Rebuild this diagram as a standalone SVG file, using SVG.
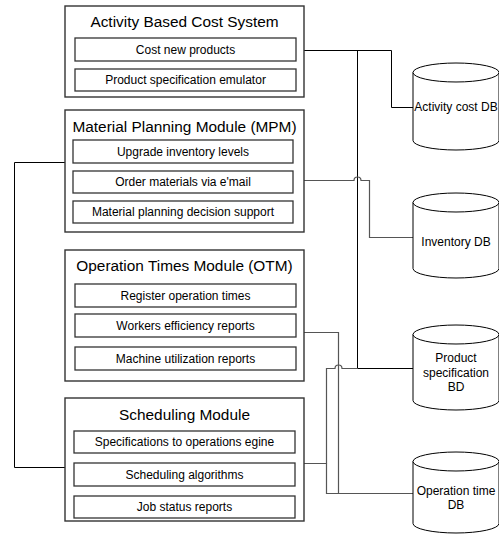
<svg xmlns="http://www.w3.org/2000/svg" width="499" height="535" viewBox="0 0 499 535">
<style>
.outer{fill:#fff;stroke:#333;stroke-width:1.4}
.inner{fill:#fff;stroke:#333;stroke-width:1.3}
.title{font-family:"Liberation Sans",Arial,sans-serif;font-size:15.4px;fill:#000;text-anchor:middle}
.item{font-family:"Liberation Sans",Arial,sans-serif;font-size:12px;fill:#000;text-anchor:middle}
.db{fill:#fff;stroke:#000;stroke-width:1}
.conn{fill:none;stroke:#000;stroke-width:1}
.conn2{fill:none;stroke:#555;stroke-width:1.2}
</style>
<rect width="499" height="535" fill="#fff"/>
<g id="connectors">
<path class="conn" d="M304,50.5 H391.5 V107.5 H413"/>
<path class="conn" d="M304,50.5 H357.5 V368.5 H413"/>
<path class="conn2" d="M304,180.5 H354 A3.5,3.5 0 0 1 361,180.5 H369.5 V237.5 H413"/>
<path class="conn2" d="M304,332.5 H338.5 V493.5 H413"/>
<path class="conn2" d="M304,463.5 H326.5 V368.5 H335 A3.5,3.5 0 0 1 342,368.5 H357.5"/>
<path class="conn2" d="M326.5,463.5 V493.5 H338.5"/>
<path class="conn" d="M65,162.5 H14.5 V467.5 H65"/>
</g>
<g id="abc">
<rect class="outer" x="65" y="6" width="239" height="91"/>
<text class="title" x="184.5" y="26.5">Activity Based Cost System</text>
<rect class="inner" x="75" y="38" width="221" height="23"/>
<text class="item" x="185.5" y="53.8">Cost new products</text>
<rect class="inner" x="75" y="69" width="221" height="22"/>
<text class="item" x="185.5" y="84.3">Product specification emulator</text>
</g>
<g id="mpm">
<rect class="outer" x="65" y="110" width="239" height="122"/>
<text class="title" x="184.5" y="132">Material Planning Module (MPM)</text>
<rect class="inner" x="73" y="140" width="220" height="23"/>
<text class="item" x="183" y="155.8">Upgrade inventory levels</text>
<rect class="inner" x="73" y="171" width="220" height="22"/>
<text class="item" x="183" y="186.3">Order materials via e'mail</text>
<rect class="inner" x="73" y="201" width="220" height="22"/>
<text class="item" x="183" y="216.3">Material planning decision support</text>
</g>
<g id="otm">
<rect class="outer" x="65" y="250" width="239" height="131"/>
<text class="title" x="184.5" y="271">Operation Times Module (OTM)</text>
<rect class="inner" x="75" y="284" width="221" height="23"/>
<text class="item" x="185.5" y="299.8">Register operation times</text>
<rect class="inner" x="75" y="314" width="221" height="23"/>
<text class="item" x="185.5" y="329.8">Workers efficiency reports</text>
<rect class="inner" x="75" y="347" width="221" height="23"/>
<text class="item" x="185.5" y="362.8">Machine utilization reports</text>
</g>
<g id="sched">
<rect class="outer" x="65" y="398" width="239" height="123"/>
<text class="title" x="184.5" y="420">Scheduling Module</text>
<rect class="inner" x="74" y="431" width="221" height="22"/>
<text class="item" x="184.5" y="446.3">Specifications to operations egine</text>
<rect class="inner" x="74" y="463" width="221" height="23"/>
<text class="item" x="184.5" y="478.8">Scheduling algorithms</text>
<rect class="inner" x="74" y="496" width="221" height="22"/>
<text class="item" x="184.5" y="511.3">Job status reports</text>
</g>
<g id="activity-cost-db">
<path class="db" d="M413,72.5 A43,9.5 0 0 1 499,72.5 V140.5 A43,9.5 0 0 1 413,140.5 Z"/>
<path class="db" d="M413,72.5 A43,9.5 0 0 0 499,72.5"/>
<text class="item" x="456" y="111.3">Activity cost DB</text>
</g>
<g id="inventory-db">
<path class="db" d="M413,202.5 A43,9.5 0 0 1 499,202.5 V268.5 A43,9.5 0 0 1 413,268.5 Z"/>
<path class="db" d="M413,202.5 A43,9.5 0 0 0 499,202.5"/>
<text class="item" x="456" y="246.3">Inventory DB</text>
</g>
<g id="product-spec-db">
<path class="db" d="M413,334.5 A43,9.5 0 0 1 499,334.5 V400.5 A43,9.5 0 0 1 413,400.5 Z"/>
<path class="db" d="M413,334.5 A43,9.5 0 0 0 499,334.5"/>
<text class="item" x="456" y="362.3">Product</text>
<text class="item" x="456" y="376.8">specification</text>
<text class="item" x="456" y="391.3">BD</text>
</g>
<g id="operation-time-db">
<path class="db" d="M413,461.5 A43,9.5 0 0 1 499,461.5 V523.5 A43,9.5 0 0 1 413,523.5 Z"/>
<path class="db" d="M413,461.5 A43,9.5 0 0 0 499,461.5"/>
<text class="item" x="456" y="494.5">Operation time</text>
<text class="item" x="456" y="509">DB</text>
</g>
</svg>
